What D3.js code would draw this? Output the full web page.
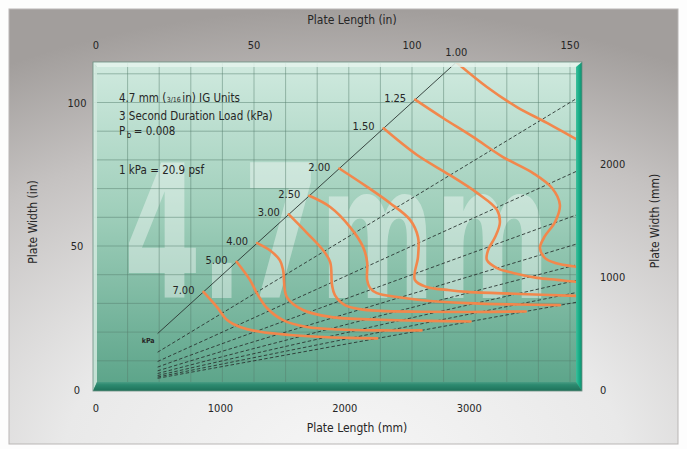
<!DOCTYPE html>
<html><head><meta charset="utf-8">
<script src="https://cdn.jsdelivr.net/npm/d3@7"></script>
<style>
html,body{margin:0;padding:0;background:#fff;}
svg{display:block;}
text{font-family:"DejaVu Sans Condensed","Liberation Sans Narrow","Arial Narrow",sans-serif;fill:#262626;}
</style></head><body>
<svg id="c" width="687" height="449"></svg>
<script>
// ---------- DATA ----------
const topTicksIn = [0, 50, 100, 150];
const bottomTicksMm = [0, 1000, 2000, 3000];
const leftTicksIn = [0, 50, 100];
const rightTicksMm = [0, 1000, 2000];
const gridLengthIn = [0,10,20,30,40,50,60,70,80,90,100,110,120,130,140,150];
const gridWidthIn = [10,20,30,40,50,60,70,80,90,100,110];
const squareRatio = 1;
const aspectRatios = [1.5, 2, 2.5, 3, 3.5, 4, 4.5, 5];
const ratioLineStartIn = 19.5;
const loadLabels = ["1.00","1.25","1.50","2.00","2.50","3.00","4.00","5.00","7.00"];
// curves: [plate length (in), plate width (in)]
const curve100 = [[114,114],[123.7,105.4],[133.2,98.4],[142.7,92.9],[152.5,86.9],[156,85]];
const curve125 = [[101,101],[109.8,94.6],[119.3,88.0],[128.8,81.0],[138.3,75.4],[144.3,70.2],[146.8,64.3],[145.3,58.4],[142.1,53.5],[140.5,49.3],[142.1,45.8],[145.3,44.1],[152.5,42.7],[156,42.3]];
const curve150 = [[91,91],[101.6,81.7],[112.0,74.7],[120.6,68.5],[126.9,62.6],[127.8,58.0],[126.3,53.1],[124.1,48.6],[123.7,45.1],[126.9,42.3],[132.0,40.6],[139.6,38.9],[145.9,38.2],[152.5,37.5],[156,37.3]];
const curve200 = [[77,77],[85.8,70.6],[93.0,65.0],[99.4,59.1],[101.9,53.1],[101.9,46.2],[100.9,38.2],[104.7,35.7],[111.1,34.7],[117.4,34.0],[134.2,33.3],[152.5,32.6],[156,32.5]];
const curve250 = [[67.5,67.5],[74.1,63.6],[80.4,56.6],[84.5,49.7],[85.8,44.4],[85.8,38.2],[86.7,35.4],[88.9,33.6],[95.3,32.2],[102.5,31.2],[117.4,30.1],[134.2,29.6],[146.8,29.4]];
const curve300 = [[61,61],[66.8,54.5],[71.8,48.6],[74.1,44.4],[74.7,36.4],[75.6,32.9],[78.8,29.4],[83.5,28.0],[89.9,27.4],[102.5,27.1],[118.4,27.0],[136,27.2]];
const curve400 = [[51,51],[55,48.5],[58.2,45],[59.2,41.6],[60.4,32.2],[65.5,27.7],[74.1,25.3],[89.9,24.3],[105.7,23.9],[118.5,23.7]];
const curve500 = [[44.5,44.5],[48.7,38.2],[50.9,33.6],[54.1,28.4],[59.2,24.2],[66.8,21.8],[77.2,20.9],[89.9,20.6],[103,20.6]];
const curve700 = [[34,34],[38.3,28.7],[41.5,24.2],[45.6,21.8],[51.9,20.1],[61.4,19.0],[71.8,18.3],[80,18.0],[89,17.8]];
const loadCurves = [curve100,curve125,curve150,curve200,curve250,curve300,curve400,curve500,curve700];
const infoLines = ["3 Second Duration Load (kPa)", "1 kPa = 20.9 psf"];
const watermark = "4.7mm";

// ---------- LAYOUT ----------
const svg = d3.select("#c");
const W = 687, H = 449;
const x = d3.scaleLinear().domain([0,150]).range([96,570]);
const y = d3.scaleLinear().domain([0,100]).range([389.5,102.5]);
const xmm = d3.scaleLinear().domain([0,3810]).range([96,570]);
const ymm = d3.scaleLinear().domain([0,2540]).range([389.5,102.5]);
const P = {l:93, r:582, t:62, b:391};

const defs = svg.append("defs");
const bg = defs.append("radialGradient").attr("id","bg").attr("cx","0.5").attr("cy","1.05").attr("r","1.05");
[[0,"#f6f6f6"],[0.4,"#e9e9e9"],[0.75,"#c5c2c1"],[1,"#a29e9c"]].forEach(s=>bg.append("stop").attr("offset",s[0]).attr("stop-color",s[1]));
const pg = defs.append("linearGradient").attr("id","pg").attr("x1",0).attr("y1",0).attr("x2",0).attr("y2",1);
[[0,"#d0eadf"],[0.45,"#a0cfbb"],[1,"#5aa388"]].forEach(s=>pg.append("stop").attr("offset",s[0]).attr("stop-color",s[1]));
const rg = defs.append("linearGradient").attr("id","rg").attr("x1",0).attr("y1",0).attr("x2",1).attr("y2",0);
[[0,"#3fbf9c"],[0.5,"#17ad87"],[1,"#0f8d6d"]].forEach(s=>rg.append("stop").attr("offset",s[0]).attr("stop-color",s[1]));
const bgr = defs.append("linearGradient").attr("id","bgr").attr("x1",0).attr("y1",0).attr("x2",0).attr("y2",1);
[[0,"#4a9d84"],[0.3,"#2d8a70"],[1,"#1d7159"]].forEach(s=>bgr.append("stop").attr("offset",s[0]).attr("stop-color",s[1]));
defs.append("clipPath").attr("id","clip").append("rect")
  .attr("x",P.l+1).attr("y",P.t+1).attr("width",576-P.l-1).attr("height",383-P.t-1);

// page + panel
svg.append("rect").attr("width",W).attr("height",H).attr("fill","#fdfdfd");
svg.append("rect").attr("x",9).attr("y",9).attr("width",669).attr("height",435)
  .attr("fill","url(#bg)").attr("stroke","#b9b6b5").attr("stroke-width",1);

// plot background
svg.append("rect").attr("x",P.l).attr("y",P.t).attr("width",P.r-P.l).attr("height",P.b-P.t).attr("fill","url(#pg)");

// watermark (scaled horizontally to a condensed look)
const wm = svg.append("text").text(watermark)
  .style("font-family","DejaVu Sans Condensed, DejaVu Sans, sans-serif")
  .style("font-weight","bold").style("font-size","186px")
  .style("fill","#ffffff").style("opacity",0.4);
const wmW = wm.node().getComputedTextLength() || 700;
wm.attr("transform",`translate(124,298) scale(${426/wmW},1)`);

const plot = svg.append("g").attr("clip-path","url(#clip)");
// grid
plot.selectAll(".gv").data(gridLengthIn).join("line")
  .attr("x1",d=>x(d)).attr("x2",d=>x(d)).attr("y1",P.t).attr("y2",P.b)
  .attr("stroke","#557f6f").attr("stroke-opacity",0.55).attr("stroke-width",0.9);
plot.selectAll(".gh").data(gridWidthIn).join("line")
  .attr("y1",d=>y(d)).attr("y2",d=>y(d)).attr("x1",P.l).attr("x2",P.r)
  .attr("stroke","#557f6f").attr("stroke-opacity",0.55).attr("stroke-width",0.9);

// ratio lines
function ratioEnd(r){ // end at right edge or top edge
  const Lmax = x.invert(577), Wmax = y.invert(63);
  let L = Lmax, Wd = L / r;
  if (Wd > Wmax) { Wd = Wmax; L = Wd * r; }
  return [L, Wd];
}
plot.selectAll(".ar").data(aspectRatios).join("line")
  .attr("x1",r=>x(ratioLineStartIn)).attr("y1",r=>y(ratioLineStartIn/r))
  .attr("x2",r=>x(ratioEnd(r)[0])).attr("y2",r=>y(ratioEnd(r)[1]))
  .attr("stroke","#2a3632").attr("stroke-width",0.9).attr("stroke-dasharray","3.5,2.2");
const sq = ratioEnd(squareRatio);
plot.append("line").attr("x1",x(ratioLineStartIn)).attr("y1",y(ratioLineStartIn/squareRatio))
  .attr("x2",x(sq[0])).attr("y2",y(sq[1])).attr("stroke","#2a3632").attr("stroke-width",0.9);

// load curves
const line = d3.line().x(d=>x(d[0])).y(d=>y(d[1])).curve(d3.curveCatmullRom.alpha(0.5));
plot.selectAll(".lc").data(loadCurves).join("path")
  .attr("d",line).attr("fill","none").attr("stroke","#f2874c").attr("stroke-width",2.6)
  .attr("stroke-linecap","round");

// bevel edges
svg.append("polygon").attr("points",[[P.l,P.t],[P.r,P.t],[P.r-6,P.t+5],[P.l+4,P.t+5]].join(" "))
  .attr("fill","#e4f3ec").attr("opacity",0.85);
svg.append("polygon").attr("points",[[P.l,P.t],[P.l+4,P.t+5],[P.l+4,P.b-9],[P.l,P.b]].join(" "))
  .attr("fill","#d6ece2").attr("opacity",0.85);
svg.append("polygon").attr("points",[[P.r,P.t],[P.r,P.b],[P.r-6,P.b-9],[P.r-6,P.t+5]].join(" "))
  .attr("fill","url(#rg)");
svg.append("polygon").attr("points",[[P.l,P.b],[P.r,P.b],[P.r-6,P.b-9],[P.l+4,P.b-9]].join(" "))
  .attr("fill","url(#bgr)");
svg.append("rect").attr("x",P.l).attr("y",P.t).attr("width",P.r-P.l).attr("height",P.b-P.t)
  .attr("fill","none").attr("stroke","#6c8f82").attr("stroke-width",0.8);

// curve labels
svg.selectAll(".ll").data(loadCurves).join("text")
  .attr("x",(c,i)=> i===0 ? x(c[0][0]) : x(c[0][0]) - 9)
  .attr("y",(c,i)=> i===0 ? 56 : y(c[0][1]) + 2)
  .attr("text-anchor",(c,i)=> i===0 ? "middle" : "end")
  .style("font-size","11px")
  .text((c,i)=>loadLabels[i]);
svg.append("text").attr("x",x(ratioLineStartIn)-3).attr("y",y(ratioLineStartIn)+9)
  .attr("text-anchor","end").style("font-size","7px").style("font-weight","bold").text("kPa");

// info block: pieces placed side by side
function runs(x0, yb, parts){
  let cx = x0;
  parts.forEach(p=>{
    const t = svg.append("text").attr("x",cx).attr("y",yb + (p.dy||0))
      .style("font-size",(p.size||11.5)+"px").text(p.t);
    cx += t.node().getComputedTextLength() + (p.gap||0);
  });
}
runs(119, 102, [{t:"4.7 mm (", gap:0.5},{t:"3/16", size:7, gap:1.5},{t:"in) IG Units"}]);
svg.append("text").attr("x",119).attr("y",120).style("font-size","11.5px").text(infoLines[0]);
runs(119, 135, [{t:"P", gap:1.5},{t:"b", size:8, dy:3, gap:2.5},{t:"= 0.008"}]);
svg.append("text").attr("x",119).attr("y",174).style("font-size","11.5px").text(infoLines[1]);

// axes tick labels
svg.selectAll(".tt").data(topTicksIn).join("text")
  .attr("x",d=>x(d)).attr("y",49).attr("text-anchor","middle").style("font-size","11px").text(d=>d);
svg.selectAll(".bt").data(bottomTicksMm).join("text")
  .attr("x",d=>xmm(d)).attr("y",412).attr("text-anchor","middle").style("font-size","11px").text(d=>d);
svg.selectAll(".lt").data(leftTicksIn).join("text")
  .attr("x",77).attr("y",d=>y(d)+4).attr("text-anchor","middle").style("font-size","11px").text(d=>d);
svg.selectAll(".rt").data(rightTicksMm).join("text")
  .attr("x",600).attr("y",d=>ymm(d)+4).attr("text-anchor","start").style("font-size","11px").text(d=>d);

// axis titles
svg.append("text").attr("x",352).attr("y",24).attr("text-anchor","middle").style("font-size","12px").text("Plate Length (in)");
svg.append("text").attr("x",357).attr("y",432).attr("text-anchor","middle").style("font-size","12px").text("Plate Length (mm)");
svg.append("text").attr("transform","translate(37,222) rotate(-90)").attr("text-anchor","middle").style("font-size","12px").text("Plate Width (in)");
svg.append("text").attr("transform","translate(659,221) rotate(-90)").attr("text-anchor","middle").style("font-size","12px").text("Plate Width (mm)");
</script>
</body></html>
